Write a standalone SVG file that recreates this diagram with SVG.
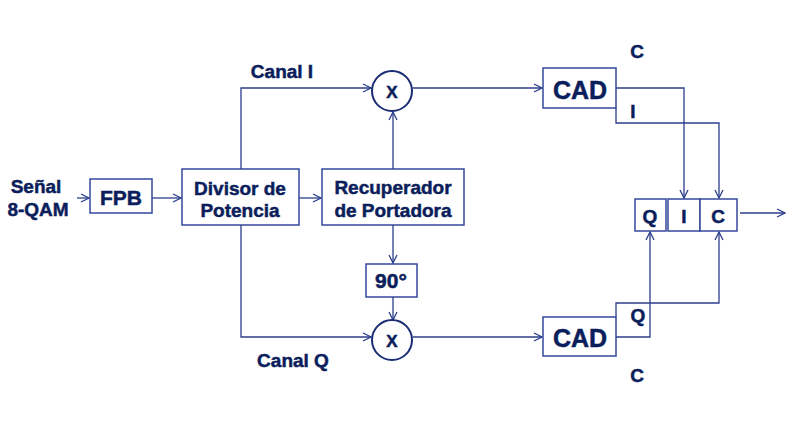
<svg xmlns="http://www.w3.org/2000/svg" width="787" height="424" viewBox="0 0 787 424">
<style>
.box{fill:#fff;stroke:#34489a;stroke-width:1.5}
.ln{fill:none;stroke:#2b3e8c;stroke-width:1.3;marker-end:url(#ah)}
.t{font-family:"Liberation Sans",Arial,sans-serif;font-weight:bold;fill:#0b1e5b;stroke:#0b1e5b;stroke-width:0.5;text-anchor:middle;font-size:19px}
.mid{font-size:21px}
.big{font-size:25px}
.circ{fill:#fff;stroke:#1a2d75;stroke-width:2}
</style>
<defs>
<marker id="ah" markerWidth="10" markerHeight="10" refX="9" refY="5" orient="auto" markerUnits="userSpaceOnUse">
<path d="M1,1 L9,5 L1,9" fill="none" stroke="#2b3e8c" stroke-width="1.3"/>
</marker>
</defs>
<rect width="787" height="424" fill="#fff"/>
<g id="connectors">
<line class="ln" x1="77" y1="198" x2="89" y2="198"/>
<line class="ln" x1="152" y1="198" x2="181" y2="198"/>
<line class="ln" x1="299" y1="198" x2="321" y2="198"/>
<polyline class="ln" points="241,169 241,88 371,88"/>
<polyline class="ln" points="241,225 241,337 371,337"/>
<line class="ln" x1="393" y1="169" x2="393" y2="112"/>
<line class="ln" x1="393" y1="225" x2="393" y2="263"/>
<line class="ln" x1="393" y1="297" x2="393" y2="320"/>
<line class="ln" x1="413" y1="88" x2="542" y2="88"/>
<line class="ln" x1="413" y1="337" x2="542" y2="337"/>
<polyline class="ln" points="616,88 684,88 684,198"/>
<polyline class="ln" points="616,108 616,123 719,123 719,198"/>
<polyline class="ln" points="616,337 650,337 650,232"/>
<polyline class="ln" points="616,317 616,303 719,303 719,232"/>
<line class="ln" x1="740" y1="213" x2="785" y2="213"/>
</g>
<g id="senal"><text class="t" x="36" y="193">Señal</text><text class="t" x="38" y="216">8-QAM</text></g>
<g id="fpb"><rect class="box" x="90" y="179" width="62" height="34"/><text class="t mid" x="121" y="205">FPB</text></g>
<g id="divisor"><rect class="box" x="182" y="169" width="117" height="56"/><text class="t" x="240" y="195">Divisor de</text><text class="t" x="240" y="217">Potencia</text></g>
<g id="recuperador"><rect class="box" x="322" y="169" width="142" height="56"/><text class="t" x="393" y="194">Recuperador</text><text class="t" x="393" y="217">de Portadora</text></g>
<g id="desfase"><rect class="box" x="366" y="264" width="51" height="33"/><text class="t mid" x="391" y="288">90°</text></g>
<g id="mixI"><circle class="circ" cx="392" cy="91" r="20"/><text class="t" x="392" y="98" style="font-size:17px">X</text></g>
<g id="mixQ"><circle class="circ" cx="392" cy="340" r="20"/><text class="t" x="392" y="347" style="font-size:17px">X</text></g>
<g id="canalI"><text class="t" x="282" y="78">Canal I</text></g>
<g id="canalQ"><text class="t" x="293" y="367">Canal Q</text></g>
<g id="cadI"><rect class="box" x="543" y="68" width="73" height="40"/><text class="t big" x="580" y="99">CAD</text></g>
<g id="cadQ"><rect class="box" x="543" y="317" width="73" height="39"/><text class="t big" x="580" y="347">CAD</text></g>
<g id="lblC1"><text class="t" x="637" y="58">C</text></g>
<g id="lblI"><text class="t" x="633" y="118">I</text></g>
<g id="lblQ"><text class="t" x="638" y="322">Q</text></g>
<g id="lblC2"><text class="t" x="637" y="382">C</text></g>
<g id="qic">
<rect class="box" x="635" y="199" width="31" height="32"/><text class="t" x="650" y="223">Q</text>
<rect class="box" x="668" y="199" width="32" height="32"/><text class="t" x="684" y="223">I</text>
<rect class="box" x="700" y="199" width="37" height="32"/><text class="t" x="718" y="223">C</text>
</g>
</svg>
